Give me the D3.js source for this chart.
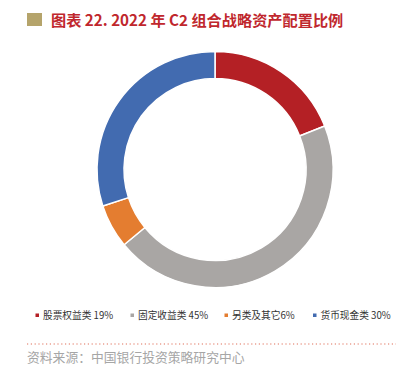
<!DOCTYPE html>
<html>
<head>
<meta charset="utf-8">
<script src="https://cdn.jsdelivr.net/npm/d3@7"></script>
<style>
  body { margin: 0; background: #fff; }
  svg { display: block; font-family: "Noto Sans CJK SC", "Noto Sans", sans-serif; }
</style>
</head>
<body>
<div id="chart"></div>
<script>
// chart data
let categories = ["股票权益类", "固定收益类", "另类及其它", "货币现金类"];
let shares = [19, 45, 6, 30];
let gaps = [" ", " ", "", " "];
let colors = ["#b42025", "#a9a6a4", "#e47d30", "#426bb0"];
let titleText = "图表 22. 2022 年 C2 组合战略资产配置比例";
let sourceText = "资料来源：中国银行投资策略研究中心";

let width = 404, height = 369;

let svg = d3.select("#chart").append("svg")
  .attr("width", width)
  .attr("height", height);

// title with the little gold square
svg.append("rect")
  .attr("x", 27).attr("y", 13)
  .attr("width", 15).attr("height", 13)
  .attr("fill", "#b5a46b");

svg.append("text")
  .attr("x", 51).attr("y", 25.5)
  .attr("font-size", 15.2)
  .attr("font-weight", "bold")
  .attr("fill", "#c0272d")
  .text(titleText);

// donut
let cx = 215, cy = 169.5, outerR = 118, innerR = 91;

let pie = d3.pie().sort(null).value(d => d);
let arc = d3.arc().innerRadius(innerR).outerRadius(outerR);

let g = svg.append("g").attr("transform", "translate(" + cx + "," + cy + ")");

g.selectAll("path.slice")
  .data(pie(shares))
  .enter().append("path")
  .attr("class", "slice")
  .attr("d", arc)
  .attr("fill", (d, i) => colors[i])
  .attr("stroke", "#fff")
  .attr("stroke-width", 1.5);

// legend
let legendX = [35.5, 130.5, 224.5, 313];
let legend = svg.append("g").attr("class", "legend");

let items = legend.selectAll("g")
  .data(categories)
  .enter().append("g")
  .attr("transform", (d, i) => "translate(" + legendX[i] + ",315)");

items.append("rect")
  .attr("x", 0).attr("y", -1.5)
  .attr("width", 3.5).attr("height", 3.5)
  .attr("fill", (d, i) => colors[i]);

items.append("text")
  .attr("x", 7.5).attr("y", 3.5)
  .attr("font-size", 9.7)
  .attr("fill", "#333")
  .text((d, i) => d + gaps[i] + shares[i] + "%");

// dotted separator
svg.append("line")
  .attr("x1", 27).attr("x2", 396)
  .attr("y1", 344).attr("y2", 344)
  .attr("stroke", "#e0705a")
  .attr("stroke-width", 1.2)
  .attr("stroke-dasharray", "1.2,2.6");

// source
svg.append("text")
  .attr("x", 27).attr("y", 361.5)
  .attr("font-size", 12.8)
  .attr("fill", "#a6a6a6")
  .text(sourceText);
</script>
</body>
</html>
